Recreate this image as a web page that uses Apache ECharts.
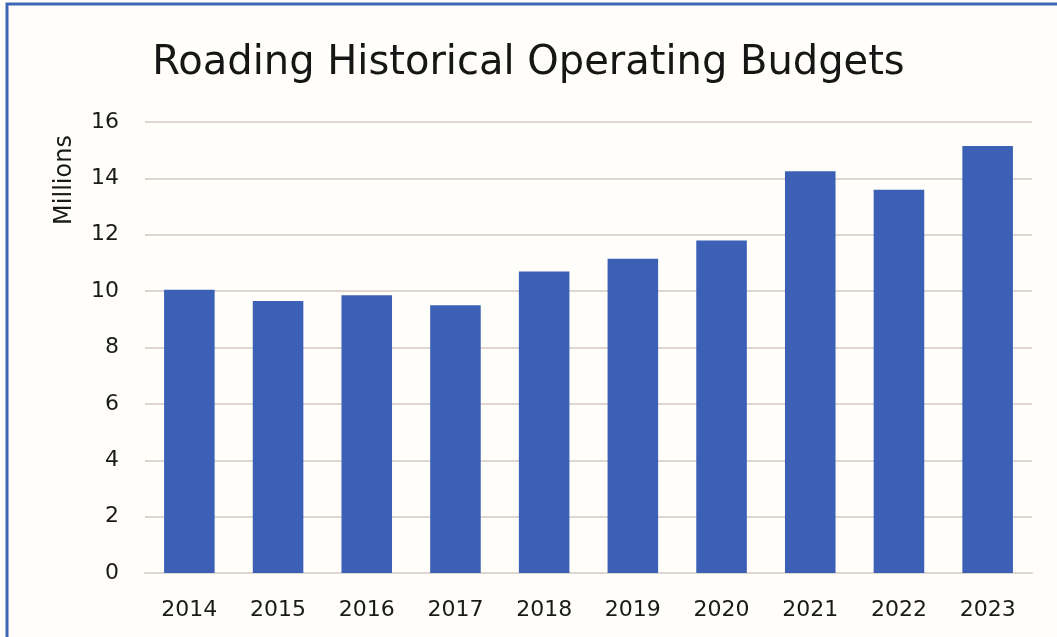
<!DOCTYPE html>
<html>
<head>
<meta charset="utf-8">
<script src="https://cdn.jsdelivr.net/npm/echarts@6/dist/echarts.min.js"></script>
<style>
  html, body { margin: 0; padding: 0; background: #fffefb; }
  #chart { width: 1057px; height: 637px; }
</style>
</head>
<body>
<div id="chart"></div>
<script>
// Roading operating budgets by financial year (NZD, millions)
const years = ['2014', '2015', '2016', '2017', '2018', '2019', '2020', '2021', '2022', '2023'];
const budgets = [10.05, 9.65, 9.85, 9.5, 10.7, 11.15, 11.8, 14.25, 13.6, 15.15];
const yTicks = { min: 0, max: 16, interval: 2 };

const FONT = '"DejaVu Sans", sans-serif';
const chart = echarts.init(document.getElementById('chart'));

chart.setOption({
  backgroundColor: '#fffefb',
  animation: false,
  title: {
    text: 'Roading Historical Operating Budgets',
    left: 'center',
    top: 39,
    textStyle: { fontFamily: FONT, fontSize: 40, fontWeight: 'normal', color: '#161616' }
  },
  grid: { left: 145, right: 25, top: 122, bottom: 64 },
  xAxis: {
    type: 'category',
    data: years,
    axisTick: { show: false },
    axisLine: { lineStyle: { color: '#ded6cf', width: 2 } },
    axisLabel: { fontFamily: FONT, fontSize: 22, color: '#1a1a1a', margin: 26 }
  },
  yAxis: {
    type: 'value',
    min: yTicks.min,
    max: yTicks.max,
    interval: yTicks.interval,
    axisLine: { show: false },
    axisTick: { show: false },
    splitLine: { lineStyle: { color: '#ded6cf', width: 2 } },
    axisLabel: { fontFamily: FONT, fontSize: 22, color: '#1a1a1a', margin: 26 }
  },
  series: [{
    type: 'bar',
    data: budgets,
    barCategoryGap: '43%',
    itemStyle: { color: '#3b60b5' }
  }],
  graphic: [
    {
      type: 'text',
      x: 65,
      y: 180,
      rotation: Math.PI / 2,
      style: {
        text: 'Millions',
        fontFamily: FONT,
        fontSize: 24,
        fill: '#1a1a1a',
        align: 'center',
        verticalAlign: 'middle'
      }
    },
    {
      type: 'rect',
      shape: { x: 7, y: 4, width: 1100, height: 700 },
      style: { fill: 'none', stroke: '#3f67b8', lineWidth: 3 },
      silent: true
    }
  ]
});
</script>
</body>
</html>
